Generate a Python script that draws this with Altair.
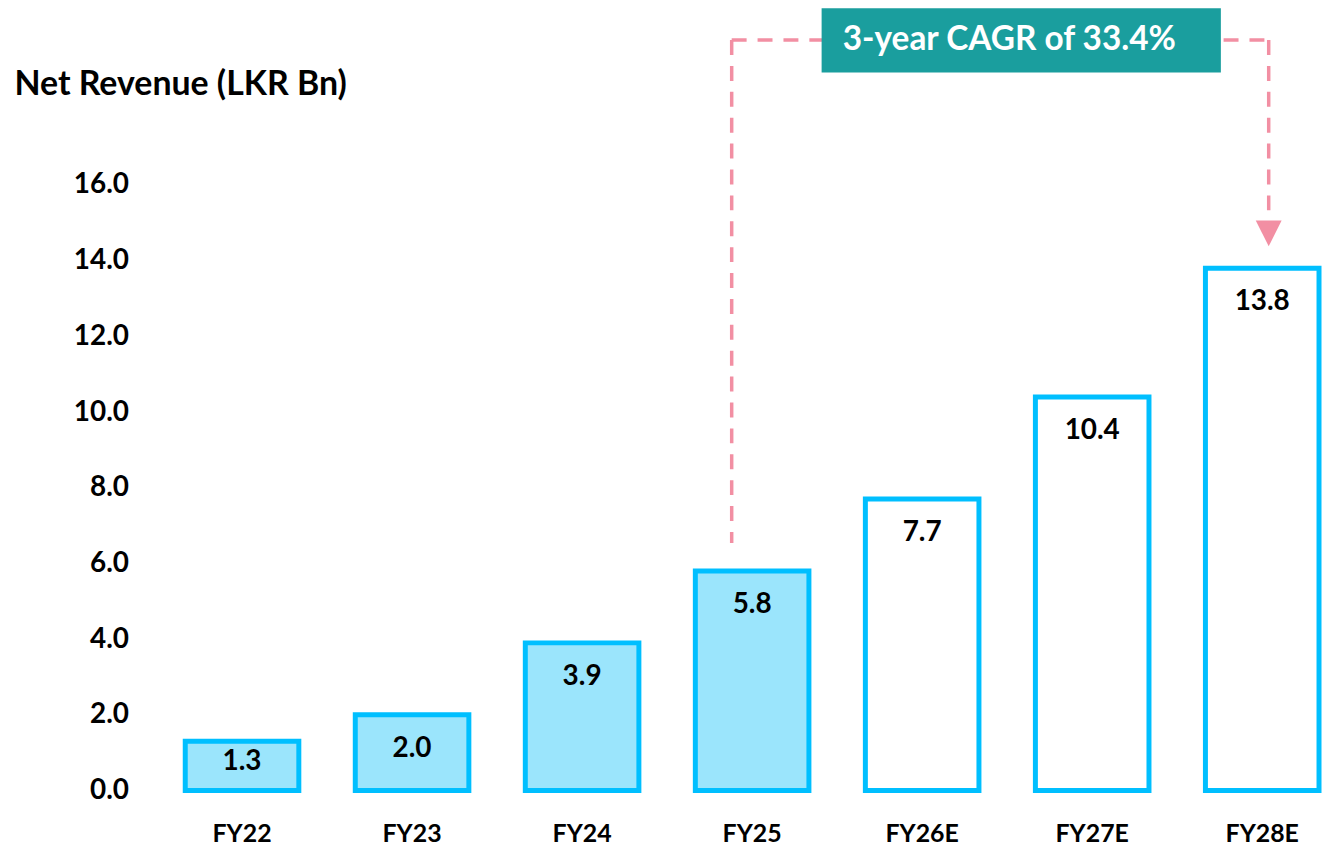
import altair as alt
import pandas as pd

# ---- data ----
years = ["FY22", "FY23", "FY24", "FY25", "FY26E", "FY27E", "FY28E"]
revenue = [1.3, 2.0, 3.9, 5.8, 7.7, 10.4, 13.8]
kind = ["Actual", "Actual", "Actual", "Actual", "Estimate", "Estimate", "Estimate"]
y_ticks = [0, 2, 4, 6, 8, 10, 12, 14, 16]

cagr_text = "3-year CAGR of 33.4%"
cagr_from = "FY25"
cagr_to = "FY28E"

df = pd.DataFrame({"year": years, "revenue": revenue, "kind": kind})

FONT = "Lato"
PINK = "#F28FA3"
TEAL = "#1A9E9E"
BLUE = "#00BFFF"
LIGHT = "#9BE5FC"

Y_TOP = 20.63
y_scale = alt.Scale(domain=[0, Y_TOP], nice=False, zero=True)
x_scale = alt.Scale(domain=years, paddingInner=0.332, paddingOuter=0)

bars = alt.Chart(df).mark_bar(stroke=BLUE, strokeWidth=5).encode(
    x=alt.X("year:N", scale=x_scale, sort=years,
            axis=alt.Axis(title=None, labelAngle=0, domain=False, ticks=False,
                          tickSize=0, labelPadding=43, labelBaseline="middle",
                          labelAlign="center", bandPosition=0.5,
                          labelFont=FONT, labelFontSize=25, labelFontWeight="bold",
                          labelColor="#000000")),
    y=alt.Y("revenue:Q", scale=y_scale,
            axis=alt.Axis(values=y_ticks, format=".1f", grid=False, domain=False,
                          ticks=False, tickSize=0, labelPadding=57,
                          labelFont=FONT, labelFontSize=28, labelFontWeight="bold",
                          labelColor="#000000",
                          title="Net Revenue (LKR Bn)", titleAngle=0,
                          titleX=-172, titleY=85, titleAlign="left",
                          titleBaseline="alphabetic", titleFont=FONT,
                          titleFontSize=34, titleFontWeight="bold",
                          titleColor="#000000")),
    fill=alt.Fill("kind:N", scale=alt.Scale(domain=["Actual", "Estimate"],
                                            range=[LIGHT, "#FFFFFF"]), legend=None),
)

labels = alt.Chart(df).transform_calculate(
    label_y="max(datum.revenue - 0.9, 0.75)"
).mark_text(font=FONT, fontSize=28, fontWeight="bold", color="#000000",
            baseline="middle", align="center").encode(
    x=alt.X("year:N", scale=x_scale, sort=years),
    y=alt.Y("label_y:Q", scale=y_scale),
    text=alt.Text("revenue:Q", format=".1f"),
)

# ---- CAGR annotation ----
LINE_Y = 19.83
LEFT_BOTTOM = 6.54
ARROW_TOP = 15.07
ARROW_MID = 14.72
BP_FROM = 0.32
BP_TO = 0.557

ann_v = pd.DataFrame({
    "year": [cagr_from, cagr_to],
    "y": [LINE_Y, LINE_Y],
    "y2": [LEFT_BOTTOM, ARROW_TOP],
})

dash = dict(color=PINK, strokeWidth=3.5, strokeDash=[15, 11])

v_left = alt.Chart(ann_v.iloc[[0]]).mark_rule(**dash).encode(
    x=alt.X("year:N", scale=x_scale, sort=years, bandPosition=BP_FROM),
    y=alt.Y("y:Q", scale=y_scale),
    y2="y2:Q",
)
v_right = alt.Chart(ann_v.iloc[[1]]).mark_rule(**dash).encode(
    x=alt.X("year:N", scale=x_scale, sort=years, bandPosition=BP_TO),
    y=alt.Y("y:Q", scale=y_scale),
    y2="y2:Q",
)

ann_h = pd.DataFrame({"year": [cagr_from], "b": [cagr_to], "y": [LINE_Y]})
h_line = alt.Chart(ann_h).mark_rule(**dash).encode(
    x=alt.X("year:N", scale=x_scale, sort=years, bandPosition=BP_FROM),
    x2=alt.X2("b:N", bandPosition=BP_TO),
    y=alt.Y("y:Q", scale=y_scale),
)

arrow = alt.Chart(pd.DataFrame({"year": [cagr_to], "y": [ARROW_MID]})).mark_point(
    shape="M-1,-1L1,-1L0,1Z", size=676, filled=True, fill=PINK,
    strokeWidth=0, opacity=1,
).encode(
    x=alt.X("year:N", scale=x_scale, sort=years, bandPosition=BP_TO),
    y=alt.Y("y:Q", scale=y_scale),
)

box_df = pd.DataFrame({"year": [cagr_from], "b": [cagr_to], "y": [20.67], "y2": [18.97],
                       "ty": [19.82], "t": [cagr_text]})
box = alt.Chart(box_df).mark_rect(color=TEAL, xOffset=12.75, x2Offset=15.5).encode(
    x=alt.X("year:N", scale=x_scale, sort=years, bandPosition=1),
    x2=alt.X2("b:N", bandPosition=0),
    y=alt.Y("y:Q", scale=y_scale),
    y2="y2:Q",
)
box_text = alt.Chart(box_df).mark_text(
    font=FONT, fontSize=33.5, fontWeight="bold", color="#FFFFFF",
    align="left", baseline="middle", dx=34,
).encode(
    x=alt.X("year:N", scale=x_scale, sort=years, bandPosition=1),
    y=alt.Y("ty:Q", scale=y_scale),
    text="t:N",
)

chart = alt.layer(bars, v_left, v_right, h_line, arrow, labels, box, box_text).properties(
    width=1138.6, height=784,
    autosize=alt.AutoSizeParams(type="none"),
    padding={"left": 178, "top": 0, "right": 3, "bottom": 57},
    background="#FFFFFF",
).configure_view(stroke=None)

chart.save("out.html", embed_options={"renderer": "svg", "actions": False})
